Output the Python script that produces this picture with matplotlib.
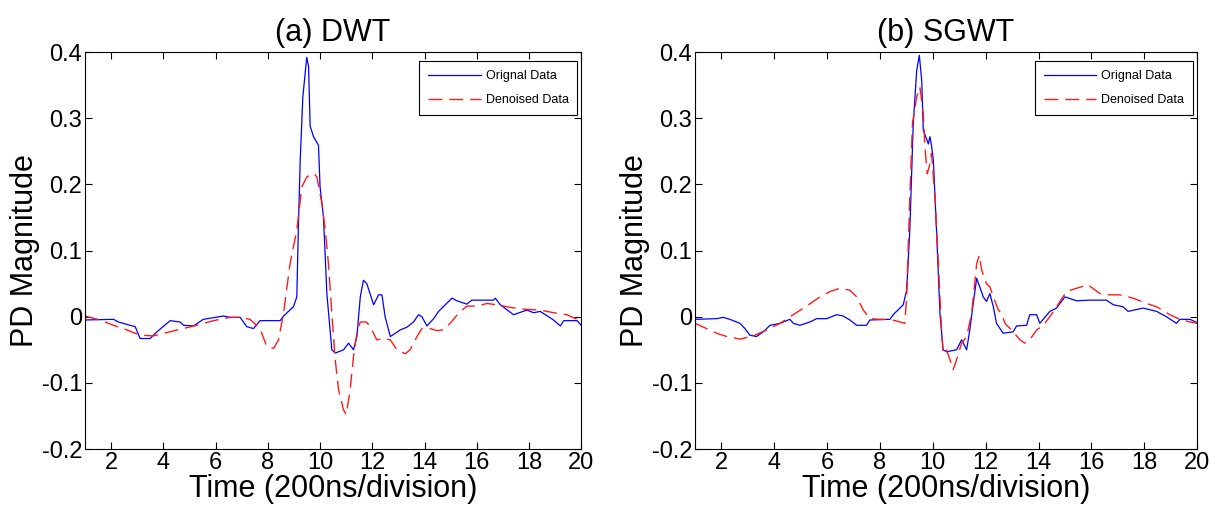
import matplotlib.pyplot as plt
import numpy as np

plt.rcParams['font.family'] = ['Liberation Sans', 'DejaVu Sans']

# (a) DWT
dwt_orig_t = [1.00, 2.09, 2.28, 2.72, 2.92, 3.11, 3.49, 3.75, 4.26, 4.64, 4.77, 5.15, 5.53, 6.30, 6.56,
              6.94, 7.19, 7.45, 7.70, 8.47, 8.60, 8.98, 9.11, 9.17, 9.24, 9.34, 9.49, 9.56, 9.62, 9.75,
              9.94, 10.00, 10.13, 10.26, 10.45, 10.58, 10.90, 11.09, 11.28, 11.41, 11.54, 11.66, 11.79,
              12.05, 12.24, 12.37, 12.49, 12.69, 13.07, 13.32, 13.58, 13.77, 13.90, 14.09, 14.35, 14.54,
              15.05, 15.24, 15.62, 15.81, 16.64, 16.71, 16.90, 17.41, 17.92, 18.18, 18.43, 18.94, 19.20,
              19.33, 19.84, 20.00]
dwt_orig_v = [-0.005, -0.004, -0.008, -0.013, -0.015, -0.033, -0.033, -0.023, -0.006, -0.008, -0.013,
              -0.014, -0.004, 0.001, -0.001, -0.001, -0.015, -0.018, -0.006, -0.006, 0.001, 0.015, 0.030,
              0.136, 0.237, 0.332, 0.392, 0.378, 0.288, 0.272, 0.259, 0.196, 0.151, 0.035, -0.050, -0.055,
              -0.050, -0.040, -0.050, -0.030, 0.030, 0.055, 0.050, 0.018, 0.033, 0.033, 0.000, -0.030,
              -0.020, -0.016, -0.008, 0.003, 0.000, -0.014, -0.003, 0.008, 0.028, 0.024, 0.019, 0.025,
              0.025, 0.028, 0.018, 0.003, 0.010, 0.006, 0.008, -0.005, -0.014, -0.006, -0.006, -0.013]
dwt_den_t = [1.00, 1.57, 2.09, 2.60, 3.11, 3.62, 4.13, 4.64, 5.28, 5.92, 6.56, 6.94, 7.32, 7.70, 7.96,
             8.22, 8.41, 8.60, 8.85, 9.11, 9.30, 9.49, 9.75, 9.88, 10.07, 10.20, 10.32, 10.45, 10.58,
             10.71, 10.90, 11.00, 11.15, 11.28, 11.41, 11.54, 11.77, 11.92, 12.17, 12.43, 12.69, 12.94,
             13.26, 13.45, 13.71, 13.90, 14.22, 14.47, 14.73, 14.98, 15.30, 15.62, 16.01, 16.39, 16.77,
             17.28, 17.92, 18.43, 18.94, 19.45, 19.84, 20.00]
dwt_den_v = [0.001, -0.005, -0.013, -0.020, -0.028, -0.029, -0.024, -0.019, -0.013, -0.006, -0.001,
             -0.001, -0.004, -0.018, -0.045, -0.048, -0.035, 0.005, 0.080, 0.131, 0.196, 0.211, 0.217,
             0.211, 0.171, 0.131, 0.080, 0.005, -0.065, -0.111, -0.141, -0.148, -0.111, -0.060, -0.025,
             -0.008, -0.008, -0.015, -0.035, -0.033, -0.035, -0.050, -0.056, -0.050, -0.030, -0.018,
             -0.018, -0.021, -0.020, -0.010, 0.005, 0.016, 0.016, 0.020, 0.018, 0.014, 0.011, 0.010,
             0.006, 0.003, -0.004, -0.008]

# (b) SGWT
sgwt_orig_t = [1.00, 1.82, 2.07, 2.32, 2.70, 2.89, 3.08, 3.33, 3.58, 3.84, 4.22, 4.59, 4.72, 4.97, 5.35,
               5.60, 5.98, 6.36, 6.61, 6.86, 7.12, 7.49, 7.62, 8.38, 8.50, 8.88, 9.01, 9.13, 9.26, 9.39,
               9.49, 9.58, 9.64, 9.83, 9.89, 9.95, 10.02, 10.14, 10.27, 10.39, 10.52, 10.90, 11.09, 11.28,
               11.40, 11.53, 11.66, 11.91, 12.03, 12.16, 12.29, 12.41, 12.66, 13.04, 13.17, 13.55, 13.67,
               13.93, 14.05, 14.43, 14.68, 15.00, 15.44, 15.94, 16.57, 16.83, 17.20, 17.39, 17.96, 18.47,
               18.84, 19.22, 19.35, 19.73, 20.00]
sgwt_orig_v = [-0.004, -0.003, -0.001, -0.004, -0.010, -0.018, -0.028, -0.030, -0.023, -0.013, -0.010,
               -0.004, -0.010, -0.013, -0.008, -0.003, -0.003, 0.003, 0.001, -0.005, -0.013, -0.013,
               -0.005, -0.004, 0.003, 0.018, 0.040, 0.131, 0.292, 0.372, 0.395, 0.357, 0.282, 0.261,
               0.272, 0.259, 0.237, 0.131, 0.005, -0.050, -0.053, -0.050, -0.035, -0.050, -0.020, 0.020,
               0.058, 0.030, 0.023, 0.035, 0.015, -0.010, -0.025, -0.023, -0.014, -0.013, 0.003, 0.003,
               -0.010, 0.008, 0.013, 0.030, 0.024, 0.025, 0.025, 0.018, 0.015, 0.008, 0.013, 0.008, 0.000,
               -0.010, -0.004, -0.004, -0.009]
sgwt_den_t = [1.00, 1.44, 1.82, 2.20, 2.70, 3.21, 3.71, 4.22, 4.72, 5.22, 5.73, 6.11, 6.49, 6.86, 7.12,
              7.37, 7.62, 8.00, 8.38, 8.76, 8.94, 9.01, 9.13, 9.23, 9.39, 9.51, 9.64, 9.70, 9.79, 9.89,
              9.95, 10.08, 10.21, 10.33, 10.39, 10.52, 10.65, 10.77, 10.90, 11.09, 11.28, 11.47, 11.66,
              11.76, 11.85, 12.03, 12.16, 12.29, 12.48, 12.60, 12.73, 13.04, 13.30, 13.48, 13.67, 13.93,
              14.18, 14.43, 14.68, 15.06, 15.44, 15.88, 16.32, 16.70, 17.08, 17.58, 18.09, 18.47, 18.97,
              19.35, 19.73, 20.00]
sgwt_den_v = [-0.010, -0.018, -0.025, -0.030, -0.034, -0.029, -0.020, -0.010, 0.003, 0.016, 0.030, 0.038,
              0.043, 0.040, 0.030, 0.010, -0.003, -0.004, -0.004, -0.008, -0.010, 0.030, 0.181, 0.292,
              0.332, 0.347, 0.307, 0.257, 0.216, 0.231, 0.247, 0.181, 0.080, -0.020, -0.055, -0.050,
              -0.065, -0.080, -0.065, -0.040, -0.030, 0.005, 0.080, 0.093, 0.070, 0.050, 0.045, 0.030,
              0.010, 0.005, -0.010, -0.023, -0.035, -0.040, -0.035, -0.020, -0.013, 0.000, 0.015, 0.038,
              0.043, 0.048, 0.035, 0.033, 0.033, 0.028, 0.020, 0.015, 0.003, -0.004, -0.008, -0.010]

titles = ['(a) DWT', '(b) SGWT']
panels = [(dwt_orig_t, dwt_orig_v, dwt_den_t, dwt_den_v),
          (sgwt_orig_t, sgwt_orig_v, sgwt_den_t, sgwt_den_v)]
xticks = np.arange(2, 21, 2)
yticks = [-0.2, -0.1, 0, 0.1, 0.2, 0.3, 0.4]
ytick_labels = ['-0.2', '-0.1', '0', '0.1', '0.2', '0.3', '0.4']

fig = plt.figure(figsize=(12.18, 5.08), dpi=100)
rects = [[0.0698, 0.1161, 0.4074, 0.7815], [0.5706, 0.1161, 0.4122, 0.7815]]

for rect, title, (ot, ov, dt, dv) in zip(rects, titles, panels):
    ax = fig.add_axes(rect)
    ax.plot(ot, ov, color='#0000ff', lw=0.9, label='Orignal Data')
    ax.plot(dt, dv, color='#ff1a1a', lw=1.0, dashes=(10, 5), label='Denoised Data')
    ax.set_xlim(1, 20)
    ax.set_ylim(-0.2, 0.4)
    ax.set_xticks(xticks)
    ax.set_yticks(yticks)
    ax.set_yticklabels(ytick_labels)
    ax.tick_params(direction='in', top=True, right=True, length=5, labelsize=17, pad=2)
    ax.set_title(title, fontsize=22, pad=8)
    ax.set_xlabel('Time (200ns/division)', fontsize=22, labelpad=0)
    ax.set_ylabel('PD Magnitude', fontsize=22, labelpad=1)
    leg = ax.legend(loc='upper right', bbox_to_anchor=(0.992, 0.977), borderaxespad=0,
                    fontsize=9, fancybox=False, edgecolor='black', framealpha=1,
                    handlelength=4.2, handletextpad=0.4, labelspacing=1.0, borderpad=0.7)
    leg.get_frame().set_linewidth(0.8)

fig.savefig('out.png', dpi=100)
